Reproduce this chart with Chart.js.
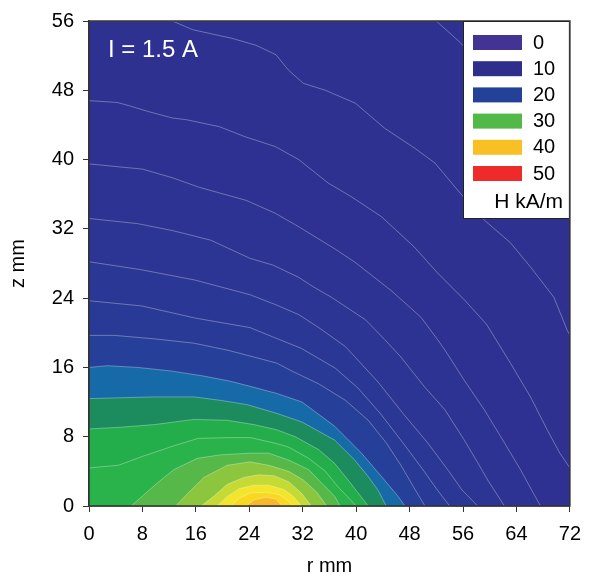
<!DOCTYPE html>
<html>
<head>
<meta charset="utf-8">
<script src="https://cdn.jsdelivr.net/npm/chart.js@4.4.0/dist/chart.umd.min.js"></script>
<style>
  body { margin: 0; background: #fff; }
  canvas { display: block; }
</style>
</head>
<body>
<canvas id="fieldChart" width="591" height="576"></canvas>
<script>
// contour lines of H, [r mm, z mm], outermost first
const line01 = [[0,56],[52,56],[55.6,53.5],[59,50.5],[63,46.5],[67,42],[72,36.5]];
const line02 = [[0,56],[12.5,56],[15.5,55.0],[21.4,54.0],[25.0,53.2],[28.0,52.1],[29.9,50.3],[32.1,48.8],[35.4,48.0],[39.9,46.5],[44.3,43.6],[48.8,41.3],[51.8,39.6],[55.6,36.1],[59.2,33.0],[63.1,30.4],[66.1,27.6],[69.6,24.1],[71.6,20.3],[72,19.7]];
const line03 = [[0,46.8],[4.2,46.6],[6.1,46.2],[9.1,45.5],[12.5,44.8],[14.6,44.6],[19.5,43.8],[23.5,42.6],[27.9,41.5],[31.4,40.0],[35.8,37.3],[39.3,35.7],[43.8,33.4],[48.7,29.9],[52.2,26.9],[56.2,23.8],[59.5,21.0],[63.1,16.5],[66.1,12.6],[68.6,8.8],[70.5,6.1],[72,4.4]];
const line04 = [[0,39.5],[8.0,38.9],[12.5,37.9],[16.5,36.8],[23.5,35.3],[27.9,33.8],[31.5,32.2],[37.0,29.6],[39.9,28.1],[45.2,24.9],[49.7,21.8],[52.2,19.2],[53.3,18.0],[56.2,14.5],[59.2,11.1],[62.2,7.3],[64.6,4.2],[67.6,0]];
const line05 = [[0,33.2],[7.3,32.6],[12.5,31.8],[18.2,30.7],[24.1,28.6],[27.6,27.8],[31.4,26.4],[33.6,25.3],[36.3,24.1],[41.4,21.5],[44.3,19.2],[46.7,17.2],[50.3,13.7],[53.3,11.1],[56.2,7.6],[58.2,5.0],[59.7,3.0],[62.2,0]];
const line06 = [[0,28.2],[7.7,27.3],[15.8,26.1],[24.1,24.4],[28.1,23.2],[31.4,22.1],[34.4,20.6],[38.4,18.4],[43.3,14.3],[47.0,10.7],[50.7,7.3],[53.7,4.2],[55.9,1.8],[58.2,0]];
const line07 = [[0,23.7],[7.9,23.1],[15.9,21.7],[24.1,20.6],[27.6,19.5],[31.8,18.2],[36.9,15.9],[40.3,13.6],[43.6,10.7],[47.0,7.3],[50.0,4.2],[52.2,1.8],[54.0,0]];
const line08 = [[0,19.7],[3.8,19.7],[9.8,19.3],[15.7,18.8],[20.7,18.0],[24.7,17.2],[28.1,16.5],[30.6,15.5],[34.4,14.1],[38.4,12.2],[41.8,9.9],[44.5,7.3],[46.7,4.7],[48.6,2.2],[50.3,0]];
const line09 = [[0,16.0],[2.8,16.2],[7.3,16.0],[12.2,15.6],[17.2,15.0],[21.2,14.4],[24.7,13.7],[28.1,13.0],[31.9,12.0],[36.8,9.2],[40.8,6.1],[43.8,3.4],[46.3,1.1],[47.3,0]];
const line10 = [[0,12.4],[4.8,12.5],[9.8,12.6],[15.7,12.6],[19.7,12.2],[23.7,11.7],[28.1,10.7],[31.9,9.7],[36.8,7.6],[39.8,5.3],[41.8,3.4],[43.3,1.8],[44.5,0]];
const line11 = [[0,8.9],[4.8,9.1],[9.8,9.4],[15.7,10.0],[20.7,9.9],[24.7,9.4],[28.1,8.8],[30.9,8.0],[34.4,6.5],[36.8,4.9],[38.8,3.0],[40.3,1.5],[41.8,0]];
const line12 = [[0,4.4],[4.4,4.7],[7.9,5.7],[12.9,7.0],[16.3,7.8],[20.8,7.9],[24.2,7.9],[28.1,7.2],[29.9,6.8],[32.9,5.5],[35.4,4.0],[37.3,2.2],[38.8,1.0],[40.0,0]];
const dome1 = [[6.3,0],[10.3,2.7],[12.7,4.2],[16.2,5.5],[19.6,5.9],[24.0,6.1],[26.9,6.1],[29.9,5.3],[32.9,4.2],[34.9,2.6],[36.8,1.1],[37.6,0]];
const dome2 = [[13.0,0],[14.7,1.4],[17.2,3.3],[20.7,4.7],[24.1,5.1],[26.9,4.7],[29.9,4.0],[32.1,3.0],[34.1,1.6],[35.6,0]];
const dome3 = [[16.8,0],[18.8,1.2],[20.7,2.5],[23.2,3.3],[25.4,3.6],[27.7,3.5],[29.9,2.8],[31.8,1.5],[33.3,0]];
const dome4 = [[19.2,0],[20.7,1.1],[22.5,2.0],[24.7,2.4],[26.9,2.4],[29.2,1.9],[30.6,1.1],[31.8,0]];
const dome5 = [[21.2,0],[22.5,0.9],[24.2,1.5],[26.5,1.6],[28.5,1.3],[29.8,0.6],[30.5,0]];
const dome6 = [[23.5,0],[24.7,0.7],[26.5,1.0],[28.0,0.8],[28.9,0]];

const contours = [line01, line02, line03, line04, line05, line06, line07, line08, line09,
  line10, line11, line12, dome1, dome2, dome3, dome4, dome5, dome6];
// colour of the band enclosed by each contour
const bandColors = ['#2e3190', '#2e3190', '#2e3191', '#2d3392', '#2c3593', '#2b3794', '#293a96',
  '#263f99', '#166aa8', '#1c8c5f', '#24ae4b', '#2ab34a', '#55b848', '#8cc63f', '#c6da36',
  '#f2e52b', '#f9d820', '#f7b82a'];

const legendLabels = ['0', '10', '20', '30', '40', '50'];
const legendColors = ['#433493', '#2e2f8c', '#24419a', '#52b848', '#f8c024', '#ee2a2a'];

const FONT = 'Liberation Sans, Arial, sans-serif';

const datasets = contours.map((pts, i) => ({
  data: pts.map(p => ({x: p[0], y: p[1]})),
  backgroundColor: bandColors[i],
  borderColor: 'rgba(255,255,255,0.4)',
  borderWidth: 0.8,
  fill: 'origin',
  pointRadius: 0,
  tension: 0,
  order: contours.length - i   // inner bands drawn last
}));

const decor = {
  id: 'decor',
  beforeDatasetsDraw(chart) {
    const {ctx, chartArea: a} = chart;
    ctx.save();
    ctx.fillStyle = '#2e3190';
    ctx.fillRect(a.left, a.top, a.right - a.left, a.bottom - a.top);
    ctx.restore();
  },
  afterDraw(chart) {
    const {ctx, chartArea: a} = chart;
    ctx.save();
    // frame
    ctx.strokeStyle = '#333';
    ctx.lineWidth = 1.5;
    ctx.strokeRect(a.left, a.top, a.right - a.left, a.bottom - a.top);

    // current label
    ctx.fillStyle = '#fff';
    ctx.font = '24px ' + FONT;
    ctx.textBaseline = 'alphabetic';
    ctx.textAlign = 'left';
    ctx.fillText('I = 1.5 A', 108, 57);

    // legend box
    const lx = 463, ly = a.top, lw = a.right - 463, lh = 198;
    ctx.fillStyle = '#fff';
    ctx.fillRect(lx, ly, lw, lh);
    ctx.strokeStyle = '#222';
    ctx.lineWidth = 1;
    ctx.strokeRect(lx + 0.5, ly + 0.5, lw - 1, lh - 1);
    ctx.font = '20px ' + FONT;
    ctx.textBaseline = 'middle';
    legendLabels.forEach((lab, i) => {
      const y = 35 + i * 26.2;
      ctx.fillStyle = legendColors[i];
      ctx.fillRect(473, y, 49, 15);
      ctx.fillStyle = '#000';
      ctx.fillText(lab, 533, y + 8);
    });
    ctx.font = '21px ' + FONT;
    ctx.textAlign = 'right';
    ctx.textBaseline = 'alphabetic';
    ctx.fillText('H kA/m', 563, 208);
    ctx.restore();
  }
};

const tickFont = {family: FONT, size: 20};

new Chart(document.getElementById('fieldChart'), {
  type: 'line',
  data: {datasets},
  options: {
    responsive: false,
    animation: false,
    layout: {padding: {top: 21, right: 18, left: 0, bottom: 0}},
    plugins: {legend: {display: false}, tooltip: {enabled: false}},
    scales: {
      x: {
        type: 'linear', min: 0, max: 72,
        ticks: {stepSize: 8, color: '#000', font: tickFont, padding: 10},
        grid: {drawOnChartArea: false, tickLength: 6, color: '#333'},
        border: {color: '#333', width: 1.5},
        title: {display: true, text: 'r mm', color: '#000', font: {family: FONT, size: 20, lineHeight: 1}, padding: 0},
        afterFit(scale) { scale.height = 70; }
      },
      y: {
        type: 'linear', min: 0, max: 56,
        ticks: {stepSize: 8, color: '#000', font: tickFont, padding: 9},
        grid: {drawOnChartArea: false, tickLength: 6, color: '#333'},
        border: {color: '#333', width: 1.5},
        title: {display: true, text: 'z mm', color: '#000', font: {family: FONT, size: 20, lineHeight: 1}, padding: 8},
        afterFit(scale) { scale.width = 89; }
      }
    }
  },
  plugins: [decor]
});
</script>
</body>
</html>
